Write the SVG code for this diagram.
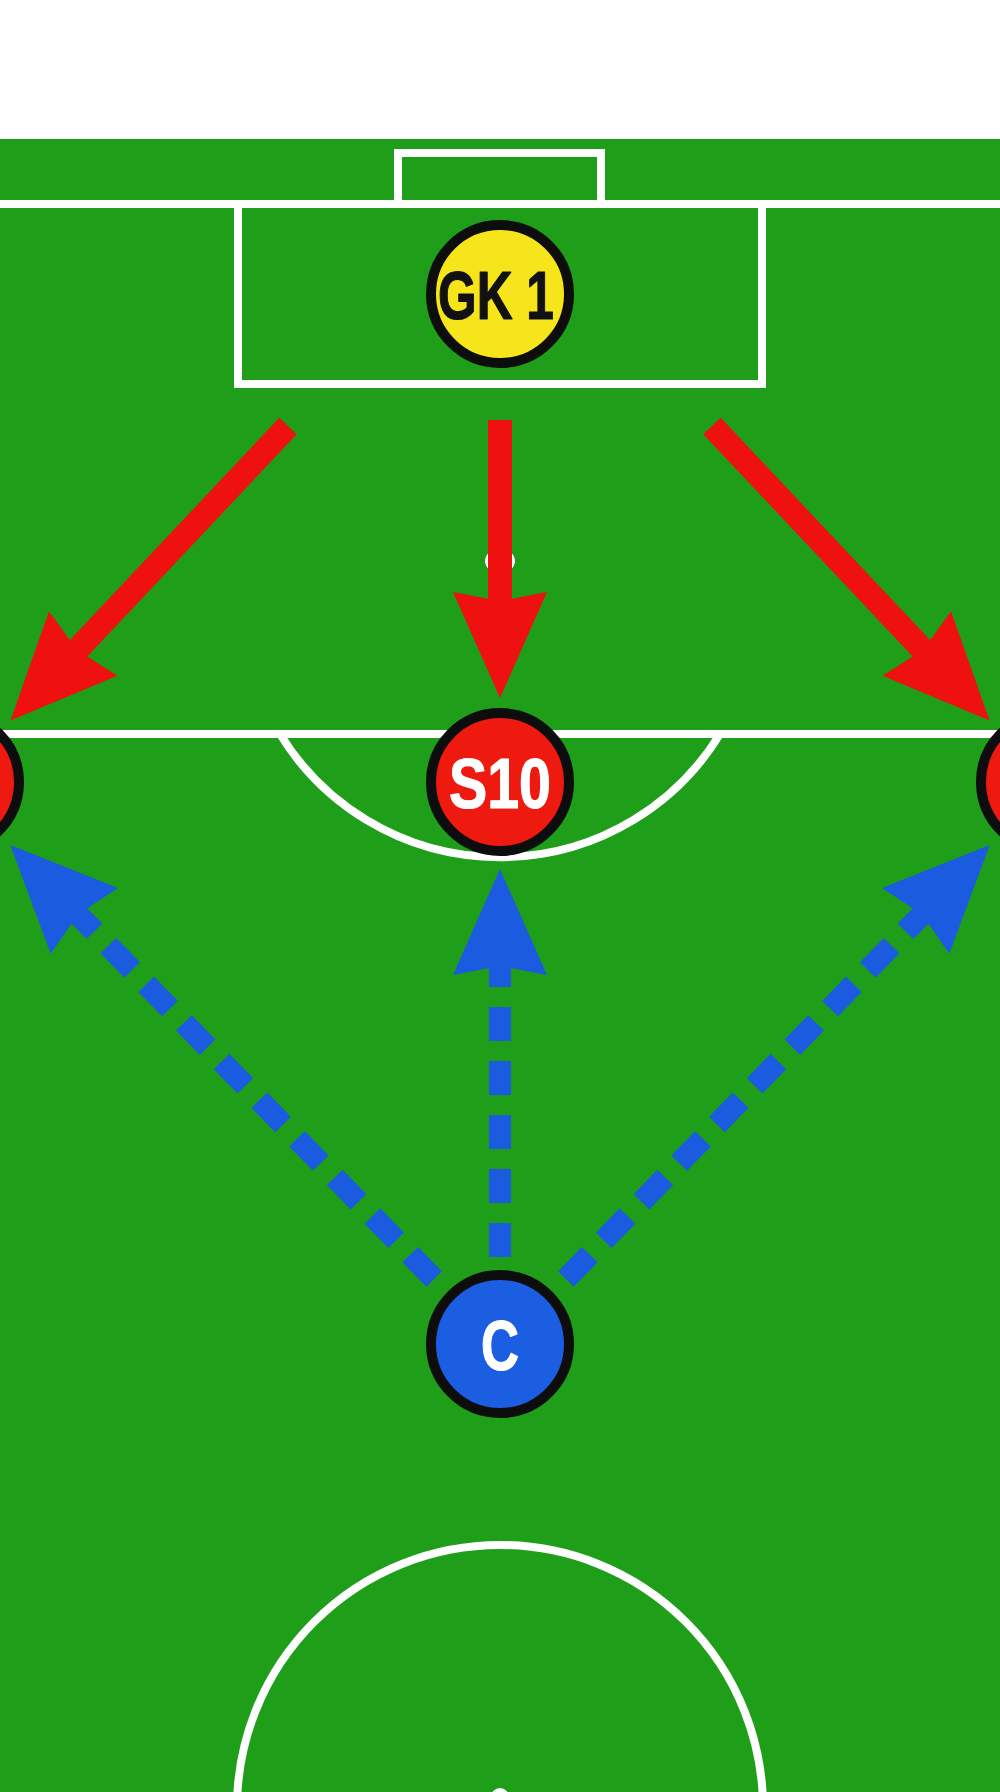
<svg xmlns="http://www.w3.org/2000/svg" width="1000" height="1792" viewBox="0 0 1000 1792">
  <style>
    .pitch { fill: none; stroke: #ffffff; stroke-width: 8; }
    .ring { stroke: #0d0d0d; stroke-width: 10; }
    .lbl { font-family: "Liberation Sans", Arial, "DejaVu Sans Condensed", sans-serif; font-weight: bold; text-anchor: middle; stroke-width: 1.2; stroke-linejoin: round; }
    .red-arrow { stroke: #ef1010; stroke-width: 24; fill: none; stroke-linecap: butt; }
    .blue-arrow { stroke: #1b5be0; stroke-width: 22; fill: none; stroke-dasharray: 34 20; stroke-linecap: butt; }
  </style>
  <defs>
    <marker id="headRed" markerUnits="userSpaceOnUse" orient="auto" refX="0" refY="0" markerWidth="200" markerHeight="200" overflow="visible">
      <path d="M97,0 L-9,-47 L0,0 L-9,47 Z" fill="#ef1010"/>
    </marker>
    <marker id="headBlue" markerUnits="userSpaceOnUse" orient="auto" refX="0" refY="0" markerWidth="200" markerHeight="200" overflow="visible">
      <path d="M97,0 L-9,-47 L0,0 L-9,47 Z" fill="#1b5be0"/>
    </marker>
  </defs>

  <!-- background -->
  <rect x="0" y="0" width="1000" height="1792" fill="#ffffff"/>
  <rect x="0" y="139" width="1000" height="1653" fill="#1f9e1a"/>

  <!-- pitch markings -->
  <g id="pitch-lines">
    <rect class="pitch" x="398" y="153" width="203" height="51"/>
    <line class="pitch" x1="0" y1="204" x2="1000" y2="204"/>
    <polyline class="pitch" points="238,204 238,384 762,384 762,204"/>
    <ellipse cx="500" cy="561" rx="13" ry="10" fill="none" stroke="#ffffff" stroke-width="4"/>
    <line class="pitch" x1="0" y1="734" x2="1000" y2="734"/>
    <path class="pitch" d="M280,734 A258,258 0 0 0 720,734"/>
    <circle class="pitch" cx="500" cy="1808" r="263"/>
    <circle cx="500" cy="1797" r="9" fill="#ffffff"/>
  </g>

  <!-- connectors -->
  <g id="connectors">
    <line class="red-arrow" x1="288" y1="426" x2="77" y2="650" marker-end="url(#headRed)"/>
    <line class="red-arrow" x1="500" y1="420" x2="500" y2="601" marker-end="url(#headRed)"/>
    <line class="red-arrow" x1="712" y1="426" x2="923" y2="650" marker-end="url(#headRed)"/>
    <line class="blue-arrow" x1="434" y1="1279" x2="78" y2="914.5" marker-end="url(#headBlue)"/>
    <line class="blue-arrow" x1="500" y1="1257" x2="500" y2="966" marker-end="url(#headBlue)"/>
    <line class="blue-arrow" x1="566" y1="1279" x2="922" y2="914.5" marker-end="url(#headBlue)"/>
  </g>

  <!-- nodes -->
  <g id="node-gk1">
    <circle class="ring" cx="500" cy="294" r="69" fill="#f7e51c"/>
    <text class="lbl" x="496" y="319" font-size="69" fill="#111111" stroke="#111111" textLength="116" lengthAdjust="spacingAndGlyphs">GK 1</text>
  </g>
  <g id="node-left">
    <circle class="ring" cx="-50" cy="782" r="69" fill="#ee1a10"/>
  </g>
  <g id="node-right">
    <circle class="ring" cx="1050" cy="782" r="69" fill="#ee1a10"/>
  </g>
  <g id="node-s10">
    <circle class="ring" cx="500" cy="782" r="69" fill="#ee1a10"/>
    <text class="lbl" x="500" y="808" font-size="70" fill="#ffffff" stroke="#ffffff" textLength="102" lengthAdjust="spacingAndGlyphs">S10</text>
  </g>
  <g id="node-c">
    <circle class="ring" cx="500" cy="1344" r="69" fill="#1b5ee2"/>
    <text class="lbl" x="500" y="1370" font-size="70" fill="#ffffff" stroke="#ffffff" textLength="38" lengthAdjust="spacingAndGlyphs">C</text>
  </g>
</svg>
